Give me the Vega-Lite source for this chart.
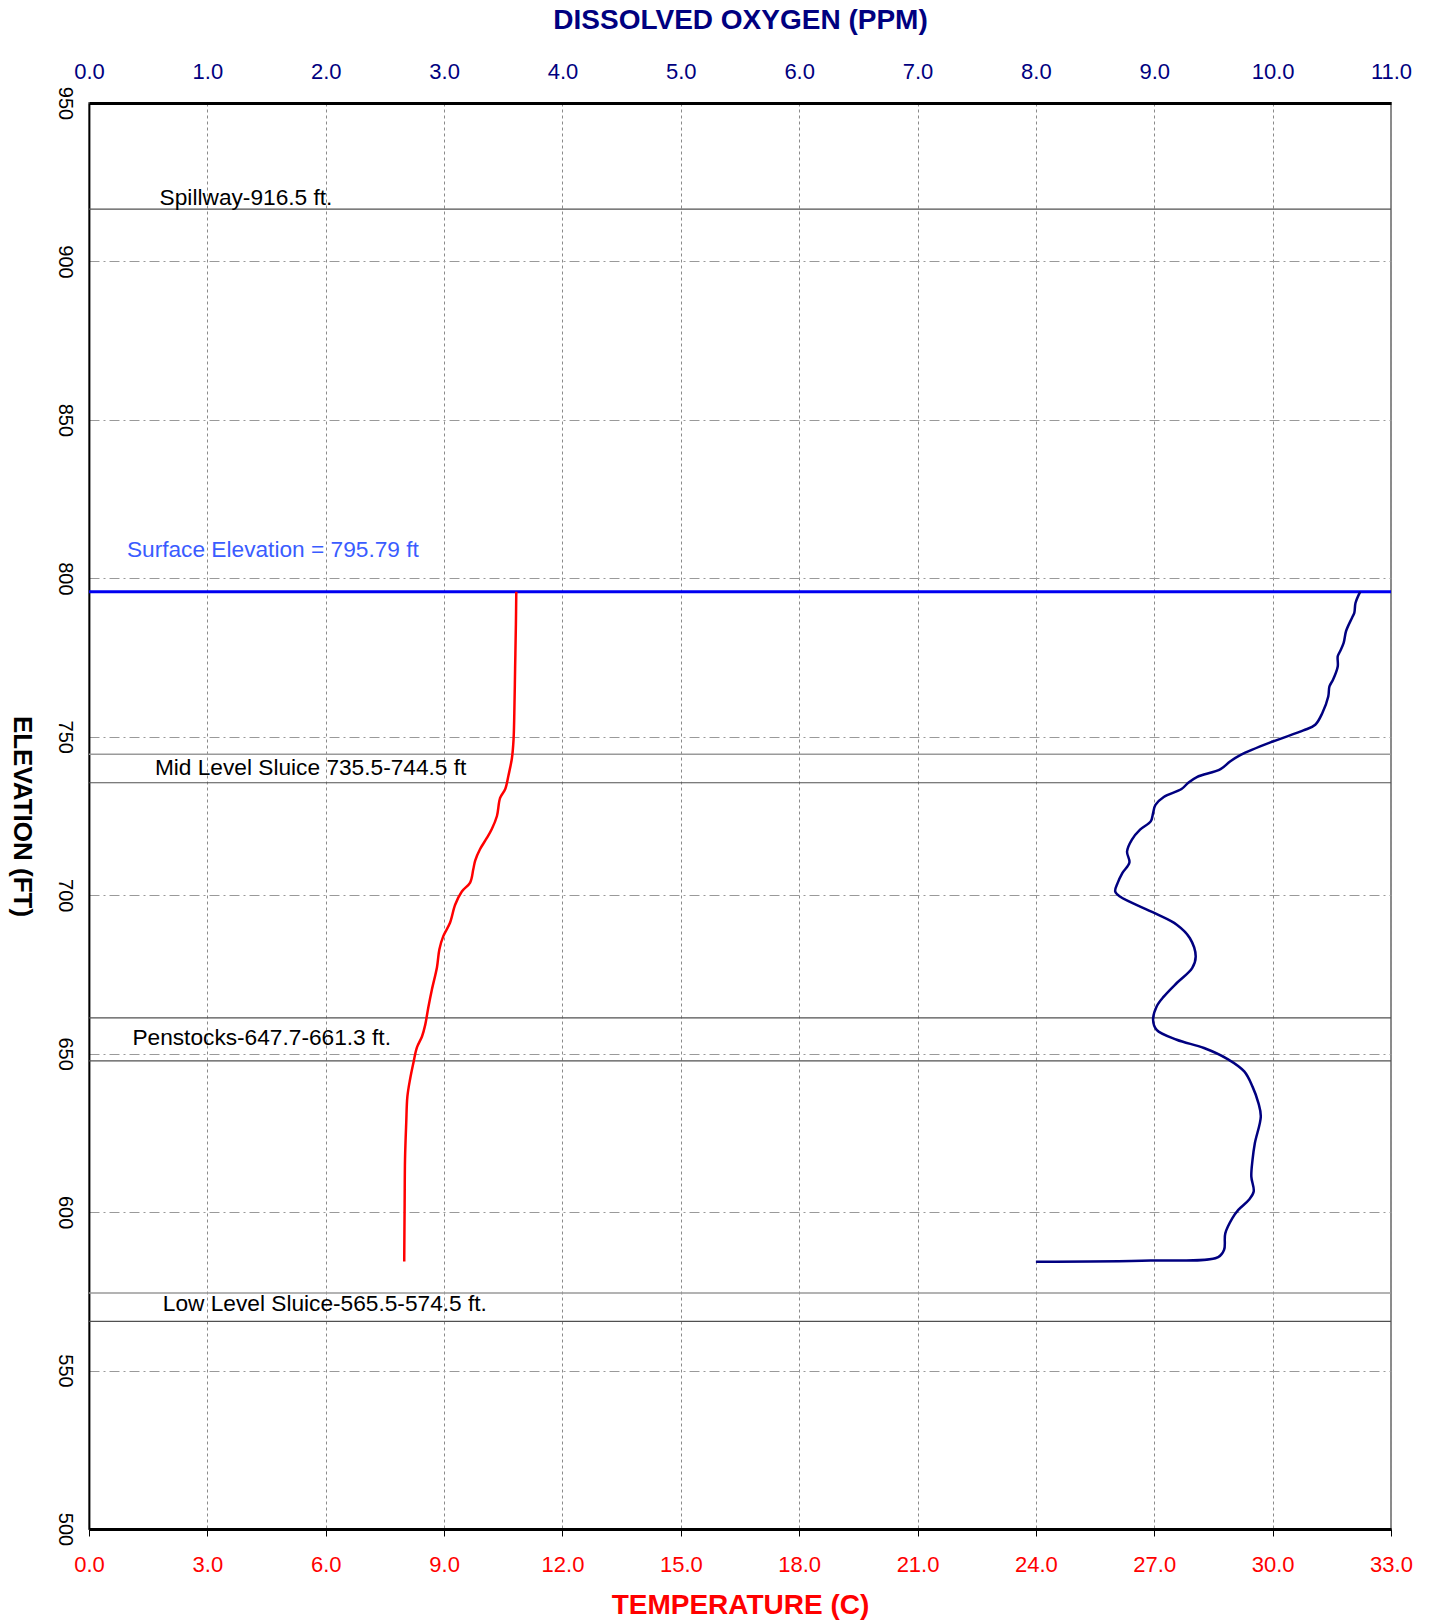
{
  "$schema": "https://vega.github.io/schema/vega-lite/v6.json",
  "width": 1302,
  "height": 1426,
  "autosize": {"type": "none"},
  "padding": {"left": 89, "top": 103, "right": 44, "bottom": 95},
  "background": "white",
  "config": {"view": {"stroke": "#8c8c8c", "strokeWidth": 2}, "font": "Liberation Sans"},
  "datasets": {
    "levels": [{"E": 916.5}, {"E": 735.5}, {"E": 661.3}, {"E": 647.7}, {"E": 565.5}],
    "levelsLight": [{"E": 744.5}, {"E": 574.5}],
    "surface": [{"E": 795.79}],
    "temp": [
      {"i": 1, "E": 795.8, "T": 10.83}, {"i": 2, "E": 785.5, "T": 10.82}, {"i": 3, "E": 771.5, "T": 10.80},
      {"i": 4, "E": 757.4, "T": 10.78}, {"i": 5, "E": 749.0, "T": 10.76}, {"i": 6, "E": 743.3, "T": 10.72},
      {"i": 7, "E": 737.7, "T": 10.63}, {"i": 8, "E": 733.5, "T": 10.55}, {"i": 9, "E": 730.7, "T": 10.42},
      {"i": 10, "E": 725.0, "T": 10.34}, {"i": 11, "E": 720.9, "T": 10.21}, {"i": 12, "E": 718.0, "T": 10.08},
      {"i": 13, "E": 714.5, "T": 9.91}, {"i": 14, "E": 711.0, "T": 9.79}, {"i": 15, "E": 708.2, "T": 9.74},
      {"i": 16, "E": 704.0, "T": 9.66}, {"i": 17, "E": 701.2, "T": 9.45}, {"i": 18, "E": 697.0, "T": 9.28},
      {"i": 19, "E": 691.3, "T": 9.15}, {"i": 20, "E": 687.1, "T": 8.98}, {"i": 21, "E": 682.9, "T": 8.88},
      {"i": 22, "E": 677.3, "T": 8.82}, {"i": 23, "E": 670.2, "T": 8.69}, {"i": 24, "E": 664.6, "T": 8.60},
      {"i": 25, "E": 659.0, "T": 8.52}, {"i": 26, "E": 655.4, "T": 8.44}, {"i": 27, "E": 651.9, "T": 8.31},
      {"i": 28, "E": 647.0, "T": 8.22}, {"i": 29, "E": 642.1, "T": 8.14}, {"i": 30, "E": 636.5, "T": 8.07},
      {"i": 31, "E": 628.0, "T": 8.04}, {"i": 32, "E": 616.8, "T": 8.01}, {"i": 33, "E": 602.7, "T": 8.00},
      {"i": 34, "E": 585.1, "T": 7.99}, {"i": 35, "E": 584.4, "T": 7.99}
    ],
    "do": [
      {"i": 1, "E": 795.8, "DO": 10.74}, {"i": 2, "E": 792.2, "DO": 10.70}, {"i": 3, "E": 789.1, "DO": 10.69},
      {"i": 4, "E": 787.5, "DO": 10.67}, {"i": 5, "E": 783.3, "DO": 10.62}, {"i": 6, "E": 779.6, "DO": 10.60},
      {"i": 7, "E": 777.0, "DO": 10.57}, {"i": 8, "E": 775.4, "DO": 10.55}, {"i": 9, "E": 772.2, "DO": 10.55},
      {"i": 10, "E": 768.0, "DO": 10.51}, {"i": 11, "E": 765.9, "DO": 10.48}, {"i": 12, "E": 762.7, "DO": 10.47},
      {"i": 13, "E": 757.5, "DO": 10.42}, {"i": 14, "E": 753.8, "DO": 10.36}, {"i": 15, "E": 752.0, "DO": 10.26},
      {"i": 16, "E": 748.5, "DO": 10.00}, {"i": 17, "E": 744.3, "DO": 9.73}, {"i": 18, "E": 742.2, "DO": 9.64},
      {"i": 19, "E": 739.8, "DO": 9.56}, {"i": 20, "E": 737.3, "DO": 9.36}, {"i": 21, "E": 735.6, "DO": 9.29},
      {"i": 22, "E": 733.5, "DO": 9.23}, {"i": 23, "E": 731.0, "DO": 9.08}, {"i": 24, "E": 728.5, "DO": 9.01},
      {"i": 25, "E": 725.9, "DO": 8.99}, {"i": 26, "E": 723.3, "DO": 8.97}, {"i": 27, "E": 720.7, "DO": 8.88},
      {"i": 28, "E": 717.5, "DO": 8.81}, {"i": 29, "E": 713.8, "DO": 8.77}, {"i": 30, "E": 710.3, "DO": 8.79},
      {"i": 31, "E": 707.0, "DO": 8.73}, {"i": 32, "E": 703.8, "DO": 8.69}, {"i": 33, "E": 701.2, "DO": 8.67},
      {"i": 34, "E": 699.6, "DO": 8.71}, {"i": 35, "E": 694.4, "DO": 9.00}, {"i": 36, "E": 690.7, "DO": 9.19},
      {"i": 37, "E": 686.5, "DO": 9.30}, {"i": 38, "E": 680.7, "DO": 9.35}, {"i": 39, "E": 677.0, "DO": 9.32},
      {"i": 40, "E": 672.3, "DO": 9.19}, {"i": 41, "E": 668.0, "DO": 9.08}, {"i": 42, "E": 664.9, "DO": 9.02},
      {"i": 43, "E": 660.7, "DO": 8.99}, {"i": 44, "E": 657.5, "DO": 9.02}, {"i": 45, "E": 654.4, "DO": 9.19},
      {"i": 46, "E": 651.8, "DO": 9.42}, {"i": 47, "E": 648.3, "DO": 9.62}, {"i": 48, "E": 644.4, "DO": 9.76},
      {"i": 49, "E": 639.6, "DO": 9.83}, {"i": 50, "E": 634.4, "DO": 9.88}, {"i": 51, "E": 630.2, "DO": 9.90},
      {"i": 52, "E": 621.8, "DO": 9.85}, {"i": 53, "E": 616.5, "DO": 9.83}, {"i": 54, "E": 611.2, "DO": 9.82},
      {"i": 55, "E": 606.5, "DO": 9.84}, {"i": 56, "E": 603.9, "DO": 9.80}, {"i": 57, "E": 600.7, "DO": 9.71},
      {"i": 58, "E": 598.1, "DO": 9.66}, {"i": 59, "E": 593.3, "DO": 9.60}, {"i": 60, "E": 588.1, "DO": 9.59},
      {"i": 61, "E": 585.8, "DO": 9.54}, {"i": 62, "E": 584.7, "DO": 8.97}, {"i": 63, "E": 584.3, "DO": 8.00}
    ],
    "labels": [
      {"label": "Spillway-916.5 ft.", "T": 1.79, "E": 920.0},
      {"label": "Mid Level Sluice 735.5-744.5 ft", "T": 1.67, "E": 740.3},
      {"label": "Penstocks-647.7-661.3 ft.", "T": 1.10, "E": 655.0},
      {"label": "Low Level Sluice-565.5-574.5 ft.", "T": 1.87, "E": 571.0}
    ],
    "surfaceLabel": [{"label": "Surface Elevation = 795.79 ft", "T": 0.96, "E": 808.8}]
  },
  "layer": [
    {
      "data": {"name": "levels"},
      "mark": {"type": "rule", "color": "#505050", "strokeWidth": 1.2},
      "encoding": {
        "y": {
          "field": "E", "type": "quantitative",
          "scale": {"domain": [500, 950], "nice": false, "zero": false},
          "axis": {
            "orient": "left",
            "values": [500, 550, 600, 650, 700, 750, 800, 850, 900, 950],
            "labelAngle": 90, "labelAlign": "center", "labelBaseline": "top",
            "labelFontSize": 20, "labelColor": "#000000", "labelPadding": 15,
            "labelFlush": false, "labelBound": false, "labelOverlap": false,
            "ticks": false,
            "grid": true, "gridColor": "#9a9a9a", "gridDash": [10, 4, 2, 4], "gridWidth": 1,
            "domainColor": "#000000", "domainWidth": 1.8,
            "title": "ELEVATION (FT)", "titleAngle": 90, "titleFontSize": 26, "titleFontWeight": "bold",
            "titleColor": "#000000", "titleX": -68, "titleY": 713, "titleAlign": "center", "titleBaseline": "middle"
          }
        }
      }
    },
    {
      "data": {"name": "levelsLight"},
      "mark": {"type": "rule", "color": "#9a9a9a", "strokeWidth": 1.5},
      "encoding": {"y": {"field": "E", "type": "quantitative"}}
    },
    {
      "data": {"name": "surface"},
      "mark": {"type": "rule", "color": "#0000f0", "strokeWidth": 3},
      "encoding": {"y": {"field": "E", "type": "quantitative"}}
    },
    {
      "data": {"name": "temp"},
      "mark": {"type": "line", "color": "#ff0000", "strokeWidth": 2.5, "interpolate": "catmull-rom"},
      "encoding": {
        "x": {
          "field": "T", "type": "quantitative",
          "scale": {"domain": [0, 33], "nice": false, "zero": false},
          "axis": {
            "orient": "bottom",
            "values": [0, 3, 6, 9, 12, 15, 18, 21, 24, 27, 30, 33],
            "format": ".1f", "labelFontSize": 22, "labelColor": "#ff0000", "labelPadding": 18,
            "labelFlush": false, "labelBound": false, "labelOverlap": false,
            "ticks": true, "tickColor": "#000000", "tickSize": 7, "tickWidth": 1,
            "grid": true, "gridColor": "#8a8a8a", "gridDash": [3, 3], "gridWidth": 1,
            "domainColor": "#000000", "domainWidth": 3,
            "title": "TEMPERATURE (C)", "titleFontSize": 28, "titleFontWeight": "bold", "titleColor": "#ff0000",
            "titleX": 651, "titleY": 76, "titleAlign": "center", "titleBaseline": "middle"
          }
        },
        "y": {"field": "E", "type": "quantitative"},
        "order": {"field": "i", "type": "quantitative"}
      }
    },
    {
      "data": {"name": "do"},
      "mark": {"type": "line", "color": "#000080", "strokeWidth": 2.5, "interpolate": "catmull-rom"},
      "encoding": {
        "x": {
          "field": "DO", "type": "quantitative",
          "scale": {"domain": [0, 11], "nice": false, "zero": false},
          "axis": {
            "orient": "top",
            "values": [0, 1, 2, 3, 4, 5, 6, 7, 8, 9, 10, 11],
            "format": ".1f", "labelFontSize": 22, "labelColor": "#000080", "labelPadding": 20,
            "labelFlush": false, "labelBound": false, "labelOverlap": false,
            "ticks": false, "grid": false,
            "domainColor": "#000000", "domainWidth": 3,
            "title": "DISSOLVED OXYGEN (PPM)", "titleFontSize": 28, "titleFontWeight": "bold", "titleColor": "#000080",
            "titleX": 651, "titleY": -83, "titleAlign": "center", "titleBaseline": "middle"
          }
        },
        "y": {"field": "E", "type": "quantitative"},
        "order": {"field": "i", "type": "quantitative"}
      }
    },
    {
      "data": {"name": "labels"},
      "mark": {"type": "text", "align": "left", "baseline": "middle", "fontSize": 22.7, "color": "#000000"},
      "encoding": {
        "x": {"field": "T", "type": "quantitative", "scale": {"domain": [0, 33], "nice": false, "zero": false}, "axis": null},
        "y": {"field": "E", "type": "quantitative"},
        "text": {"field": "label"}
      }
    },
    {
      "data": {"name": "surfaceLabel"},
      "mark": {"type": "text", "align": "left", "baseline": "middle", "fontSize": 22.7, "color": "#3a5cff"},
      "encoding": {
        "x": {"field": "T", "type": "quantitative", "scale": {"domain": [0, 33], "nice": false, "zero": false}, "axis": null},
        "y": {"field": "E", "type": "quantitative"},
        "text": {"field": "label"}
      }
    }
  ],
  "resolve": {"scale": {"x": "independent"}, "axis": {"x": "independent"}}
}
